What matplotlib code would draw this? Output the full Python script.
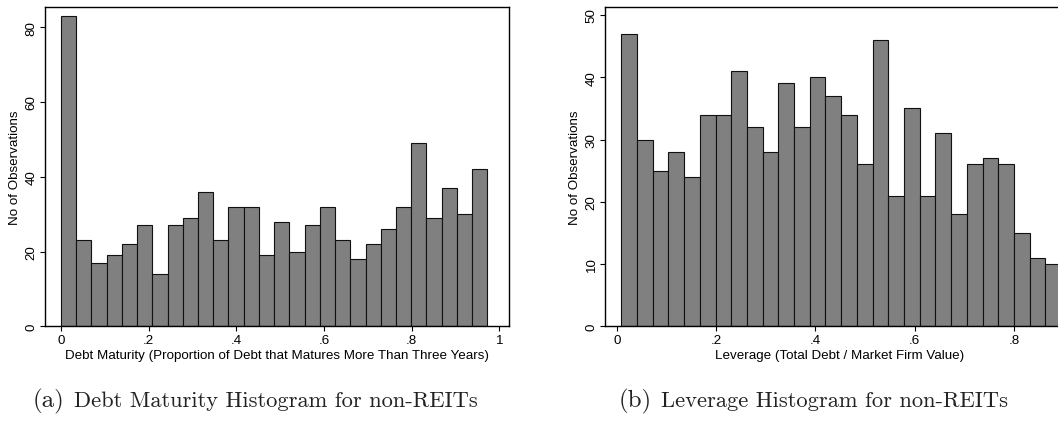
import matplotlib
matplotlib.use("Agg")
import matplotlib.pyplot as plt
import numpy as np

# ---- data ----
maturity_counts = [83, 23, 17, 19, 22, 27, 14, 27, 29, 36, 23, 32, 32, 19,
                   28, 20, 27, 32, 23, 18, 22, 26, 32, 49, 29, 37, 30, 42]
maturity_bin_start = 0.0
maturity_bin_width = 0.03474

leverage_counts = [47, 30, 25, 28, 24, 34, 34, 41, 32, 28, 39, 32, 40, 37,
                   34, 26, 46, 21, 35, 21, 31, 18, 26, 27, 26, 15, 11, 10]
leverage_bin_start = 0.0087
leverage_bin_width = 0.03165

maturity_xticks = [0, 0.2, 0.4, 0.6, 0.8, 1.0]
maturity_xticklabels = ["0", ".2", ".4", ".6", ".8", "1"]
maturity_yticks = [0, 20, 40, 60, 80]

leverage_xticks = [0, 0.2, 0.4, 0.6, 0.8]
leverage_xticklabels = ["0", ".2", ".4", ".6", ".8"]
leverage_yticks = [0, 10, 20, 30, 40, 50]

xlabel_a = "Debt Maturity (Proportion of Debt that Matures More Than Three Years)"
xlabel_b = "Leverage (Total Debt / Market Firm Value)"
ylabel = "No of Observations"
caption_a = ("(a)", "Debt Maturity Histogram for non-REITs")
caption_b = ("(b)", "Leverage Histogram for non-REITs")

# ---- figure ----
W, H = 1058, 427
fig = plt.figure(figsize=(W / 100, H / 100), dpi=100)
fig.patch.set_facecolor("white")

sans = "Liberation Sans"
fs = 9.6

def px_axes(l, r, top, bottom):
    return fig.add_axes([l / W, 1 - bottom / H, (r - l) / W, (bottom - top) / H])

def style(ax, counts, start, width, xticks, xticklabels, yticks, xlabel, xlim, ylim):
    lefts = start + width * np.arange(len(counts))
    ax.bar(lefts, counts, width=width, align="edge", color="#808080",
           edgecolor="#111111", linewidth=0.8)
    ax.set_xlim(*xlim)
    ax.set_ylim(*ylim)
    ax.set_xticks(xticks)
    ax.set_xticklabels(xticklabels, fontsize=fs, family=sans)
    ax.set_yticks(yticks)
    ax.set_yticklabels([str(v) for v in yticks], fontsize=fs, family=sans,
                       rotation=90, va="center")
    ax.tick_params(direction="out", length=3.6, width=0.8, pad=2.0, color="black")
    for s in ax.spines.values():
        s.set_linewidth(1.0)
        s.set_color("black")
    ax.set_xlabel(xlabel, fontsize=fs, family=sans, labelpad=1.8)
    ax.set_ylabel(ylabel, fontsize=fs, family=sans, labelpad=3)

ax1 = px_axes(45, 508.7, 8.3, 327.3)
style(ax1, maturity_counts, maturity_bin_start, maturity_bin_width,
      maturity_xticks, maturity_xticklabels, maturity_yticks, xlabel_a,
      (-0.0365, 1.0214), (0, 85.35))

ax2 = px_axes(605.3, 1073.5, 7.7, 327.3)
style(ax2, leverage_counts, leverage_bin_start, leverage_bin_width,
      leverage_xticks, leverage_xticklabels, leverage_yticks, xlabel_b,
      (-0.0236, 0.92), (0, 51.33))

# captions
def caption(x_left, y_base, lab, txt):
    t1 = fig.text(x_left / W, 1 - y_base / H, lab, family="cmr10", fontsize=18,
                  ha="left", va="baseline", color="#222222")
    fig.canvas.draw()
    bb = t1.get_window_extent()
    fig.text((bb.x1 + 9) / W, 1 - y_base / H, txt, family="cmr10", fontsize=16.2,
             ha="left", va="baseline", color="#222222")

caption(33, 407, *caption_a)
caption(619, 407, *caption_b)

fig.savefig("out.png", dpi=100)
